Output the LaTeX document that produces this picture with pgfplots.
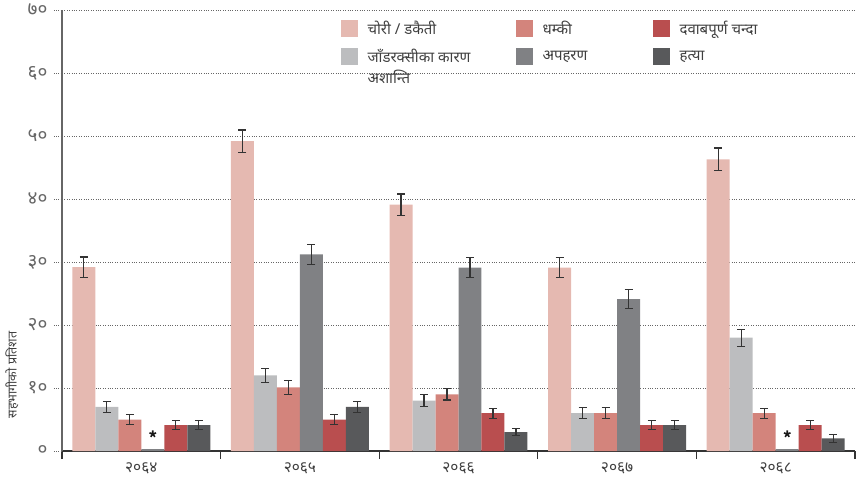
\documentclass[border=0pt]{standalone}
\usepackage{fontspec}
\setmainfont{Noto Sans}[Script=Devanagari]
\usepackage{pgfplots}
\pgfplotsset{compat=1.18}
\definecolor{cpink}{HTML}{E5B9B1}
\definecolor{csalmon}{HTML}{D3847C}
\definecolor{cred}{HTML}{B94E4F}
\definecolor{clgray}{HTML}{BCBDBF}
\definecolor{cgray}{HTML}{808184}
\definecolor{cdark}{HTML}{58595B}
\pgfplotsset{
  errstyle/.style={error bars/.cd, y dir=both, y explicit,
    error bar style={line width=1.1pt, color=black!80},
    error mark options={line width=1.1pt, color=black!80, mark size=4pt, rotate=90}},
}
\begin{document}
\begin{tikzpicture}
\begin{axis}[
  scale only axis, width=793pt, height=441pt,
  xmin=-0.5, xmax=4.5, ymin=0, ymax=70,
  axis x line=bottom, axis y line=left,
  x axis line style={-, line width=1.4pt, color=black!80},
  y axis line style={-, line width=1.4pt, color=black!60},
  xtick={-0.5,0.5,1.5,2.5,3.5,4.5},
  xticklabels={२०६४,२०६५,२०६६,२०६७,२०६८,},
  x tick label style={xshift=79.3pt, font=\fontsize{15.5pt}{17pt}\selectfont, text=black!75},
  xtick style={solid, line width=1.2pt, color=black!80},
  ytick={0,10,...,70},
  yticklabels={०,१०,२०,३०,४०,५०,६०,७०},
  y tick label style={xshift=-3pt, font=\fontsize{19pt}{21pt}\selectfont, text=black!60},
  ytick style={dotted, line width=1pt, color=black!60},
  tick align=outside, major tick length=8pt,
  ymajorgrids, y grid style={dotted, line width=1pt, color=black!60},
  ylabel={सहभागीको प्रतिशत},
  ylabel style={at={(axis description cs:-0.063,0.172)}, anchor=center, font=\fontsize{12.5pt}{14pt}\selectfont, text=black!75},
  legend columns=2, transpose legend,
  legend style={draw=none, fill=none, at={(axis description cs:0.351,0.98)}, anchor=north west,
    inner sep=0pt, font=\fontsize{15pt}{17pt}\selectfont, text=black!75,
    row sep=9pt,
    /tikz/every odd column/.append style={column sep=8pt}},
  legend cell align=left,
  legend image code/.code={\fill[#1,draw=none] (0pt,-8.5pt) rectangle (17pt,8.5pt);},
]
\addplot[ybar, bar width=0.145, bar shift=0, fill=cpink, draw=none, errstyle] table[x=x, y=y, y error=e] {
x y e
-0.3625 29.2 1.6
0.6375 49.2 1.75
1.6375 39.1 1.7
2.6375 29.1 1.6
3.6375 46.3 1.8
};
\addplot[ybar, bar width=0.145, bar shift=0, fill=clgray, draw=none, errstyle] table[x=x, y=y, y error=e] {
x y e
-0.2175 7.0 0.9
0.7825 12.0 1.1
1.7825 8.0 0.9
2.7825 6.0 0.85
3.7825 18.0 1.35
};
\addplot[ybar, bar width=0.145, bar shift=0, fill=csalmon, draw=none, errstyle] table[x=x, y=y, y error=e] {
x y e
-0.0725 5.0 0.8
0.9275 10.1 1.1
1.9275 9.0 0.9
2.9275 6.0 0.85
3.9275 6.0 0.8
};
\addplot[ybar, bar width=0.145, bar shift=0, fill=cgray, draw=none, errstyle] table[x=x, y=y, y error=e] {
x y e
1.0725 31.2 1.6
2.0725 29.1 1.6
3.0725 24.1 1.5
};
\addplot[ybar, bar width=0.145, bar shift=0, fill=cred, draw=none, errstyle] table[x=x, y=y, y error=e] {
x y e
0.2175 4.1 0.7
1.2175 5.0 0.85
2.2175 6.0 0.8
3.2175 4.1 0.7
4.2175 4.1 0.75
};
\addplot[ybar, bar width=0.145, bar shift=0, fill=cdark, draw=none, errstyle] table[x=x, y=y, y error=e] {
x y e
0.3625 4.1 0.7
1.3625 7.0 0.9
2.3625 3.0 0.6
3.3625 4.1 0.7
4.3625 2.0 0.6
};
\addplot[ybar, bar width=0.145, bar shift=0, fill=cgray, draw=none, forget plot] table[x=x, y=y] {
x y
0.0725 0.3
4.0725 0.3
};
\addplot[only marks, mark=star, mark size=3.5pt, line width=1.6pt, color=black!90, forget plot] table[x=x, y=y] {
x y
0.0725 2.7
4.0725 2.7
};
\legend{\makebox[146pt][l]{चोरी / डकैती},\smash{\rlap{\raisebox{-21pt}{अशान्ति}}}जाँडरक्सीका कारण,\makebox[108pt][l]{धम्की},अपहरण,दवाबपूर्ण चन्दा,हत्या}
\end{axis}
\pgfresetboundingbox
\path[use as bounding box] (current axis.south west) ++(-62pt,-29pt) rectangle ++(857pt,480pt);
\end{tikzpicture}
\end{document}
